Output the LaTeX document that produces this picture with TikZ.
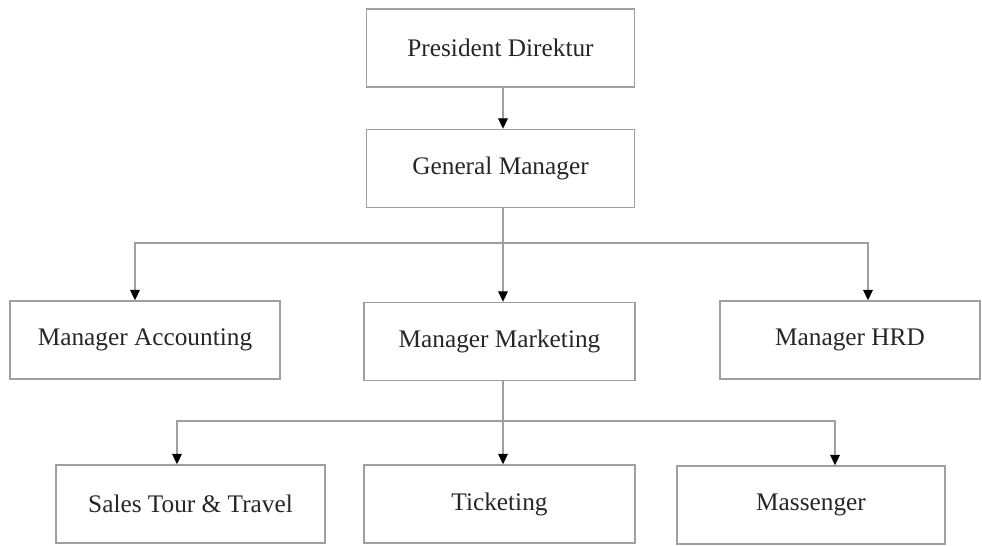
\documentclass[tikz,border=0pt]{standalone}
\usepackage{fontspec}
\setmainfont{Liberation Serif}
\usetikzlibrary{arrows.meta,positioning}

\begin{document}
\begin{tikzpicture}[
    x=0.02cm,
    y=-0.02cm,
    box/.style={draw=gray!75, line width=0.8pt, rectangle, minimum width=5.36cm, minimum height=1.56cm,
      font=\fontsize{14.4}{16}\selectfont, text=black!85, inner sep=2pt},
    arrow/.style={-{Triangle[length=6pt,width=5.5pt,color=black]}, draw=gray!75, line width=0.8pt},
    link/.style={draw=gray!75, line width=0.8pt}
  ]
    \useasboundingbox (0,0) rectangle (982,545);

    % -- top --
    \node[box] (pd)  at (500.5, 48)  {President Direktur};
    \node[box] (gm)  at (500.5, 168.5) {General Manager};

    % -- managers --
    \node[box, minimum width=5.40cm] (acc) at (145, 340)   {Manager Accounting};
    \node[box, minimum width=5.42cm] (mkt) at (499.5, 341.5) {Manager Marketing};
    \node[box, minimum width=5.20cm] (hrd) at (850, 340)   {Manager HRD};

    % -- staff --
    \node[box, minimum width=5.38cm] (sales) at (190.5, 504) {Sales Tour \& Travel};
    \node[box, minimum width=5.42cm] (tick)  at (499.5, 504) {Ticketing};
    \node[box] (mass)  at (811, 505) {Massenger};

    % -- connectors --
    \draw[arrow] ([xshift=0.05cm]pd.south) -- ([xshift=0.05cm]gm.north);

    \coordinate (bus1) at ([xshift=0.05cm]gm.south |- 0,243);
    \draw[link] ([xshift=0.05cm]gm.south) -- (bus1);
    \draw[arrow] (bus1) -| ([xshift=-0.2cm]acc.north);
    \draw[arrow] (bus1) -- (mkt.north -| bus1);
    \draw[arrow] (bus1) -| ([xshift=0.36cm]hrd.north);

    \coordinate (bus2) at ([xshift=0.07cm]mkt.south |- 0,421);
    \draw[link] ([xshift=0.07cm]mkt.south) -- (bus2);
    \draw[arrow] (bus2) -| ([xshift=-0.27cm]sales.north);
    \draw[arrow] (bus2) -- (tick.north -| bus2);
    \draw[arrow] (bus2) -| ([xshift=0.48cm]mass.north);
  \end{tikzpicture}
\end{document}
